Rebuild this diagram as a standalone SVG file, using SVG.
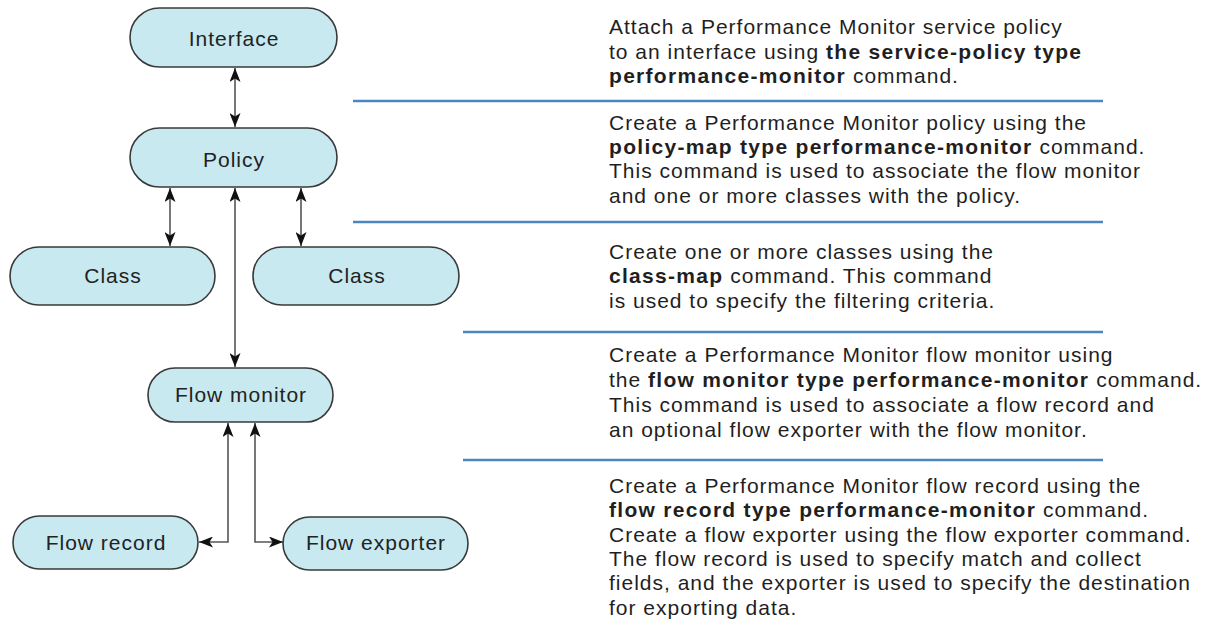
<svg xmlns="http://www.w3.org/2000/svg" width="1214" height="623" viewBox="0 0 1214 623">
  <style>
    .node { fill: #c7e9ef; stroke: #3a3a3a; stroke-width: 1.6; }
    .lbl { font-family: "Liberation Sans", Arial, sans-serif; font-size: 21px; letter-spacing: 1px; fill: #222; text-anchor: middle; }
    .txt { font-family: "Liberation Sans", Arial, sans-serif; font-size: 21px; letter-spacing: 1px; fill: #1f1f1f; }
    .b { font-weight: bold; letter-spacing: 1.3px; }
    .conn { fill: none; stroke: #555; stroke-width: 1.6; }
    .sep { stroke: #4a86c0; stroke-width: 2.6; }
  </style>
  <defs>
    <marker id="ah" viewBox="0 0 14 11" refX="14" refY="5.5" markerWidth="14" markerHeight="11" markerUnits="userSpaceOnUse" orient="auto-start-reverse">
      <path d="M0,0 L14,5.5 L0,11 L3.5,5.5 Z" fill="#111"/>
    </marker>
  </defs>
  <rect width="1214" height="623" fill="#ffffff"/>

  <g id="connectors">
    <line class="conn" x1="235" y1="68" x2="235" y2="127" marker-start="url(#ah)" marker-end="url(#ah)"/>
    <line class="conn" x1="170" y1="188" x2="170" y2="246" marker-start="url(#ah)" marker-end="url(#ah)"/>
    <line class="conn" x1="301" y1="188" x2="301" y2="246" marker-start="url(#ah)" marker-end="url(#ah)"/>
    <line class="conn" x1="235" y1="188" x2="235" y2="367" marker-start="url(#ah)" marker-end="url(#ah)"/>
    <polyline class="conn" points="228,423 228,542 199,542" marker-start="url(#ah)" marker-end="url(#ah)"/>
    <polyline class="conn" points="255,423 255,542 283,542" marker-start="url(#ah)" marker-end="url(#ah)"/>
  </g>

  <g id="node-interface">
    <rect class="node" x="130" y="8" width="207" height="59" rx="29.5"/>
    <text class="lbl" x="234" y="46">Interface</text>
  </g>
  <g id="node-policy">
    <rect class="node" x="130" y="128" width="207" height="59" rx="29.5"/>
    <text class="lbl" x="234" y="167">Policy</text>
  </g>
  <g id="node-class-left">
    <rect class="node" x="10" y="247" width="205" height="58" rx="29"/>
    <text class="lbl" x="113" y="283">Class</text>
  </g>
  <g id="node-class-right">
    <rect class="node" x="253" y="247" width="206" height="58" rx="29"/>
    <text class="lbl" x="357" y="283">Class</text>
  </g>
  <g id="node-flow-monitor">
    <rect class="node" x="148" y="368" width="185" height="54" rx="27"/>
    <text class="lbl" x="241" y="402">Flow monitor</text>
  </g>
  <g id="node-flow-record">
    <rect class="node" x="13" y="516" width="185" height="53" rx="26.5"/>
    <text class="lbl" x="106" y="550">Flow record</text>
  </g>
  <g id="node-flow-exporter">
    <rect class="node" x="283" y="517" width="185" height="53" rx="26.5"/>
    <text class="lbl" x="376" y="550">Flow exporter</text>
  </g>

  <g id="separators">
    <line class="sep" x1="353" y1="101" x2="1103" y2="101"/>
    <line class="sep" x1="353" y1="222" x2="1103" y2="222"/>
    <line class="sep" x1="463" y1="332" x2="1103" y2="332"/>
    <line class="sep" x1="463" y1="460" x2="1103" y2="460"/>
  </g>

  <g id="descriptions">
    <text class="txt" x="609" y="34">Attach a Performance Monitor service policy</text>
    <text class="txt" x="609" y="59">to an interface using <tspan class="b">the service-policy type</tspan></text>
    <text class="txt" x="609" y="83"><tspan class="b">performance-monitor</tspan> command.</text>

    <text class="txt" x="609" y="130">Create a Performance Monitor policy using the</text>
    <text class="txt" x="609" y="154"><tspan class="b">policy-map type performance-monitor</tspan> command.</text>
    <text class="txt" x="609" y="178">This command is used to associate the flow monitor</text>
    <text class="txt" x="609" y="203">and one or more classes with the policy.</text>

    <text class="txt" x="609" y="259">Create one or more classes using the</text>
    <text class="txt" x="609" y="283"><tspan class="b">class-map</tspan> command. This command</text>
    <text class="txt" x="609" y="308">is used to specify the filtering criteria.</text>

    <text class="txt" x="609" y="362">Create a Performance Monitor flow monitor using</text>
    <text class="txt" x="609" y="387">the <tspan class="b">flow monitor type performance-monitor</tspan> command.</text>
    <text class="txt" x="609" y="412">This command is used to associate a flow record and</text>
    <text class="txt" x="609" y="437">an optional flow exporter with the flow monitor.</text>

    <text class="txt" x="609" y="493">Create a Performance Monitor flow record using the</text>
    <text class="txt" x="609" y="517"><tspan class="b">flow record type performance-monitor</tspan> command.</text>
    <text class="txt" x="609" y="542">Create a flow exporter using the flow exporter command.</text>
    <text class="txt" x="609" y="566">The flow record is used to specify match and collect</text>
    <text class="txt" x="609" y="590">fields, and the exporter is used to specify the destination</text>
    <text class="txt" x="609" y="615">for exporting data.</text>
  </g>
</svg>
